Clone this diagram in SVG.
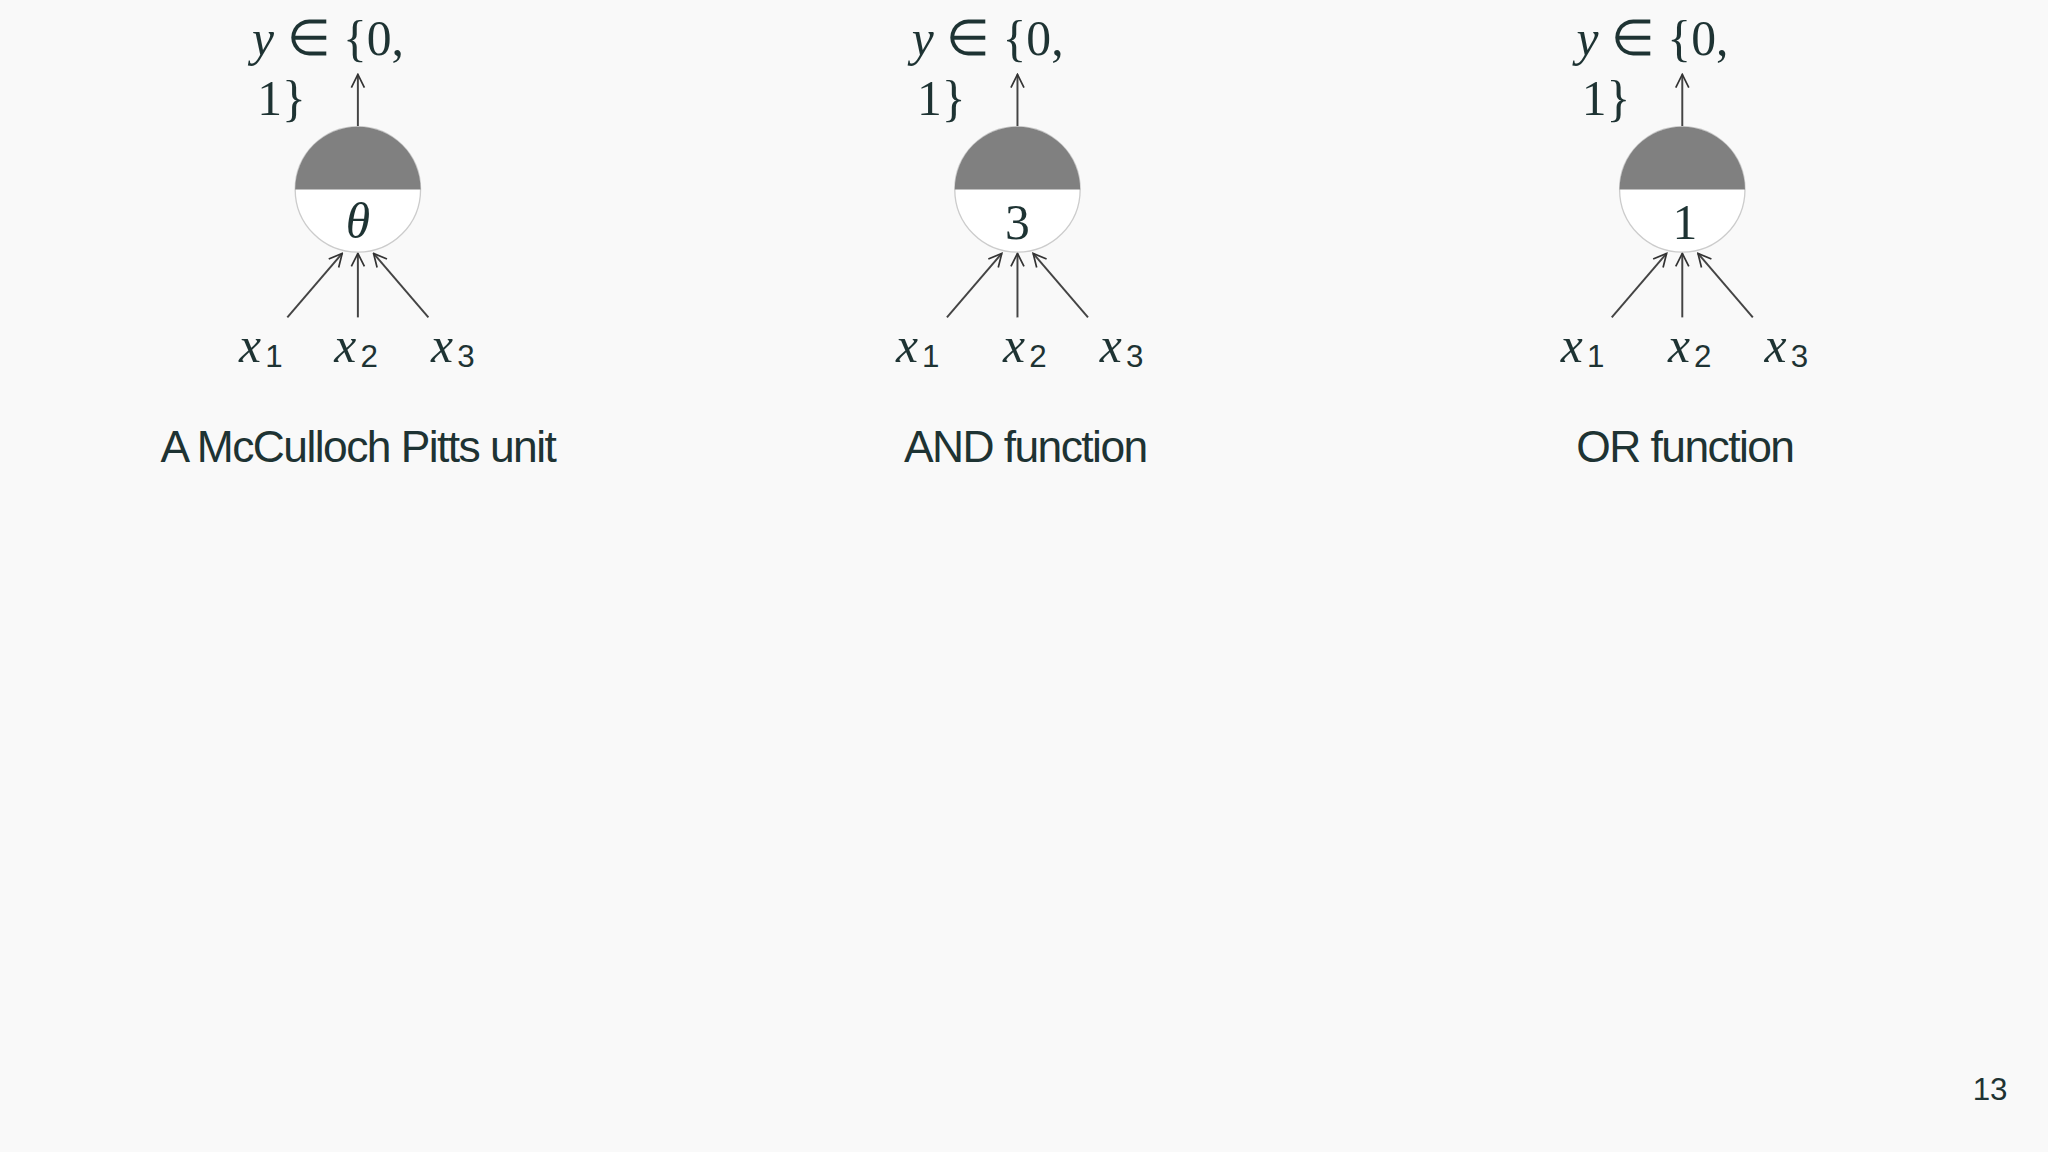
<svg xmlns="http://www.w3.org/2000/svg" width="2048" height="1152" viewBox="0 0 2048 1152">
<defs>
<style>
.m{font-family:"Liberation Serif",serif;font-size:38px;fill:#1e3333}
.i{font-style:italic}
.sub{font-family:"Liberation Sans",sans-serif;font-size:24px;fill:#1e3333}
.cap{font-family:"Liberation Sans",sans-serif;font-size:34px;fill:#1e3333;letter-spacing:-1.2px;text-anchor:middle}
.ln{stroke:#333;stroke-width:1.5;fill:none}
.in{stroke:#444;stroke-width:1.5;fill:none;marker-end:url(#ah)}
</style>
<marker id="ah" viewBox="0 0 12 12" refX="11" refY="6" markerWidth="12" markerHeight="12" markerUnits="userSpaceOnUse" orient="auto"><path d="M1,1 L11,6 L1,11" fill="none" stroke="#333" stroke-width="1.3"/></marker>
<g id="unit">
<circle cx="0" cy="0" r="48" fill="#fff" stroke="#ccc" stroke-width="1"/>
<path d="M-48,0 A48,48 0 0 1 48,0 Z" fill="#808080"/>
</g>
</defs>
<rect width="2048" height="1152" fill="#f9f9f9"/>
<g transform="scale(1.30612)">
<g id="connectors">
<line class="in" x1="274" y1="98" x2="274" y2="57"/>
<line class="in" x1="220" y1="243" x2="262" y2="194"/>
<line class="in" x1="274" y1="243" x2="274" y2="194"/>
<line class="in" x1="328" y1="243" x2="286" y2="194"/>
<line class="in" x1="779" y1="98" x2="779" y2="57"/>
<line class="in" x1="725" y1="243" x2="767" y2="194"/>
<line class="in" x1="779" y1="243" x2="779" y2="194"/>
<line class="in" x1="833" y1="243" x2="791" y2="194"/>
<line class="in" x1="1288" y1="98" x2="1288" y2="57"/>
<line class="in" x1="1234" y1="243" x2="1276" y2="194"/>
<line class="in" x1="1288" y1="243" x2="1288" y2="194"/>
<line class="in" x1="1342" y1="243" x2="1300" y2="194"/>
</g>
<g id="n1">
<use href="#unit" x="274" y="145"/>
<text class="m i" x="274" y="182" text-anchor="middle">θ</text>
<text class="m" x="193" y="42"><tspan class="i">y</tspan> ∈ {0,</text>
<text class="m" x="197" y="88">1}</text>
<text class="m i" x="183" y="277">x</text><text class="sub" x="203" y="281">1</text>
<text class="m i" x="256" y="277">x</text><text class="sub" x="276" y="281">2</text>
<text class="m i" x="330" y="277">x</text><text class="sub" x="350" y="281">3</text>
<text class="cap" x="274" y="354">A McCulloch Pitts unit</text>
</g>
<g id="n2">
<use href="#unit" x="779" y="145"/>
<text class="m" x="779" y="183" text-anchor="middle">3</text>
<text class="m" x="698" y="42"><tspan class="i">y</tspan> ∈ {0,</text>
<text class="m" x="702" y="88">1}</text>
<text class="m i" x="686" y="277">x</text><text class="sub" x="706" y="281">1</text>
<text class="m i" x="768" y="277">x</text><text class="sub" x="788" y="281">2</text>
<text class="m i" x="842" y="277">x</text><text class="sub" x="862" y="281">3</text>
<text class="cap" x="785" y="354">AND function</text>
</g>
<g id="n3">
<use href="#unit" x="1288" y="145"/>
<text class="m" x="1290" y="183" text-anchor="middle">1</text>
<text class="m" x="1207" y="42"><tspan class="i">y</tspan> ∈ {0,</text>
<text class="m" x="1211" y="88">1}</text>
<text class="m i" x="1195" y="277">x</text><text class="sub" x="1215" y="281">1</text>
<text class="m i" x="1277" y="277">x</text><text class="sub" x="1297" y="281">2</text>
<text class="m i" x="1351" y="277">x</text><text class="sub" x="1371" y="281">3</text>
<text class="cap" x="1290" y="354">OR function</text>
</g>
<text x="1537" y="842" style="font-family:'Liberation Sans',sans-serif;font-size:24px;fill:#1e3333;text-anchor:end">13</text>
</g>
</svg>
